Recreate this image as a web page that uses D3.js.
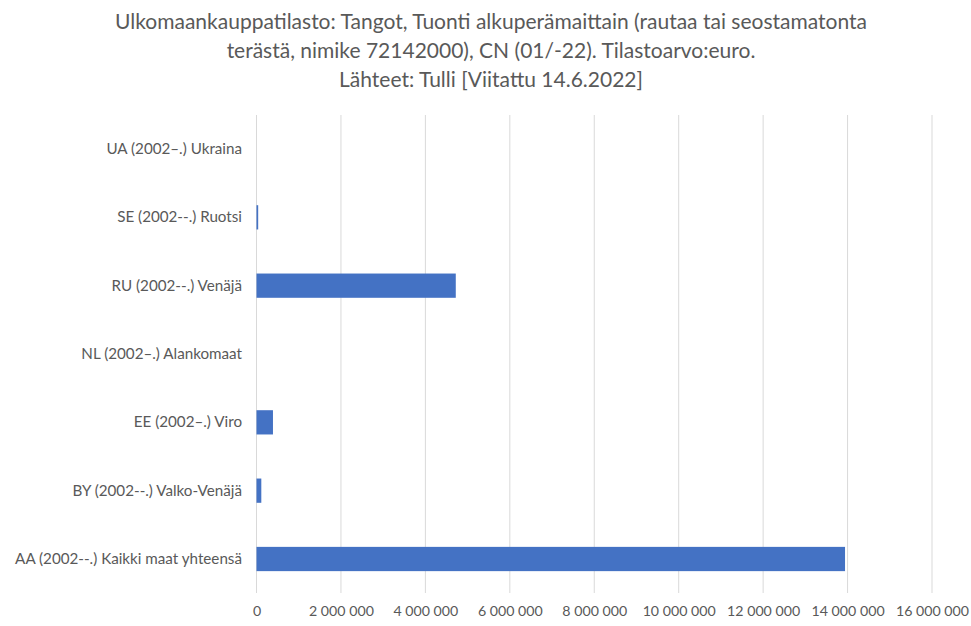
<!DOCTYPE html>
<html>
<head>
<meta charset="utf-8">
<script src="https://cdn.jsdelivr.net/npm/d3@7"></script>
<style>
  html, body { margin: 0; padding: 0; background: #fff; }
  svg { display: block; }
  text { font-family: Lato, "Open Sans", sans-serif; fill: #595959; }
</style>
</head>
<body>
<svg id="chart" width="971" height="626"></svg>
<script>
// Import values by country of origin (euro)
const categories = [
  "UA (2002\u2013.) Ukraina",
  "SE (2002--.) Ruotsi",
  "RU (2002--.) Venäjä",
  "NL (2002\u2013.) Alankomaat",
  "EE (2002\u2013.) Viro",
  "BY (2002--.) Valko-Venäjä",
  "AA (2002--.) Kaikki maat yhteensä"
];
const values = [0, 40000, 4720000, 0, 390000, 114000, 13940000];
const tickValues = [0, 2000000, 4000000, 6000000, 8000000, 10000000, 12000000, 14000000, 16000000];
const titleLines = [
  "Ulkomaankauppatilasto: Tangot, Tuonti alkuperämaittain (rautaa tai seostamatonta",
  "terästä, nimike 72142000), CN (01/-22). Tilastoarvo:euro.",
  "Lähteet: Tulli [Viitattu 14.6.2022]"
];

const svg = d3.select("#chart");
const margin = { left: 256.5, right: 39, top: 115, bottom: 33 };
const W = 971, H = 626;

const x = d3.scaleLinear()
  .domain([0, 16000000])
  .range([margin.left, W - margin.right]);

const y = d3.scaleBand()
  .domain(categories)
  .range([margin.top, H - margin.bottom])
  .paddingInner(0.645)
  .paddingOuter(0.32);

// Title
svg.append("g")
  .selectAll("text")
  .data(titleLines)
  .join("text")
  .attr("x", 491)
  .attr("y", (d, i) => 29 + i * 29)
  .attr("text-anchor", "middle")
  .style("font-size", "21px")
  .text(d => d);

// Vertical gridlines
svg.append("g")
  .selectAll("line")
  .data(tickValues)
  .join("line")
  .attr("x1", d => x(d)).attr("x2", d => x(d))
  .attr("y1", margin.top).attr("y2", H - margin.bottom)
  .attr("stroke", "#d9d9d9")
  .attr("stroke-width", 1);

// Bars
svg.append("g")
  .selectAll("rect")
  .data(categories.map((c, i) => ({ c, v: values[i] })))
  .join("rect")
  .attr("x", x(0))
  .attr("y", d => y(d.c))
  .attr("width", d => x(d.v) - x(0))
  .attr("height", y.bandwidth())
  .attr("fill", "#4472c4");

// Category axis
const yAxis = svg.append("g")
  .attr("transform", `translate(${x(0) - 14.5},0)`)
  .call(d3.axisLeft(y).tickSize(0).tickPadding(0));
yAxis.select(".domain").remove();
yAxis.selectAll("text")
  .style("font-size", "15.2px")
  .style("fill", "#595959")
  .style("font-family", "Lato, 'Open Sans', sans-serif");

// Value axis
const xAxis = svg.append("g")
  .attr("transform", `translate(0,${H - margin.bottom})`)
  .call(d3.axisBottom(x).tickValues(tickValues).tickSize(0).tickPadding(13)
    .tickFormat(v => d3.format(",")(v).replace(/,/g, " ")));
xAxis.select(".domain").remove();
xAxis.selectAll("text")
  .style("font-size", "14.2px")
  .style("fill", "#595959")
  .style("font-family", "Lato, 'Open Sans', sans-serif");
</script>
</body>
</html>
